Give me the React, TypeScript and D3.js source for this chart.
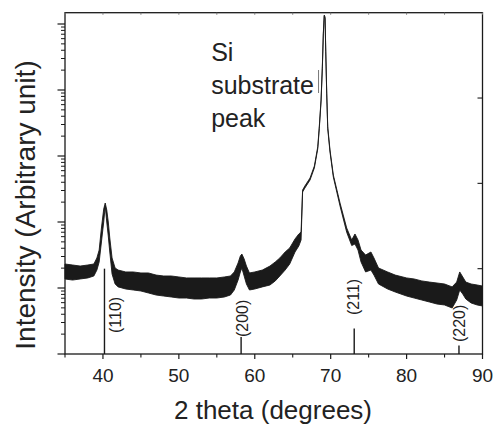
import React from "react";
import * as d3 from "d3";

// XRD pattern: upper and lower edge of the noisy trace
const theta = [35, 36, 37, 38, 38.8, 39.2, 39.5, 39.8, 40.1, 40.3, 40.5, 40.7, 40.9, 41.2, 41.6, 42, 43, 44, 45, 46, 47, 48, 49, 50, 51, 52, 53, 54, 55, 56, 56.8, 57.3, 57.8, 58.1, 58.3, 58.6, 58.9, 59.3, 60, 61, 62, 62.7, 63.3, 64, 64.6, 65.3, 65.8, 66.1, 66.3, 66.6, 67.28, 67.85, 68.3, 68.5, 68.73, 68.9, 69.03, 69.15, 69.26, 69.35, 69.48, 69.61, 69.91, 70.35, 71.23, 72.11, 72.77, 73.2, 73.6, 74, 74.6, 75.3, 75.7, 76.3, 77.5, 78.5, 80, 81, 82, 83, 84, 85, 86, 86.6, 87, 87.4, 87.8, 88.5, 89.3, 90];
const upper = [23.1, 22.3, 21.5, 22.3, 23.1, 28.5, 37.6, 81.1, 157, 194, 152, 100, 57.2, 28.5, 20.1, 18.7, 17.5, 17.5, 16.9, 16.9, 15.7, 15.2, 15.2, 14.7, 14.2, 14.2, 14.2, 14.2, 14.2, 14.7, 15.2, 17.5, 23.9, 30.5, 32.7, 27.5, 21.5, 16.9, 17.5, 18.7, 21.5, 24.8, 28.5, 35.1, 40.4, 55.3, 65.8, 70.5, 305, 351, 464, 705, 1384, 2780, 7055, 22550, 72300, 136900, 127600, 40370, 8910, 2780, 1233, 515, 194, 81.1, 53.4, 65.8, 53.4, 37.6, 31.6, 35.1, 28.5, 20.1, 17.5, 15.7, 14.2, 13.7, 12.8, 12.3, 11.9, 11.5, 10.4, 12.3, 17.5, 14.7, 12.3, 11.5, 11.1, 10.7];
const lower = [13.7, 13.2, 13.7, 14.2, 15.2, 18.7, 24.8, 49.8, 100, 175, 100, 61.4, 35.1, 16.3, 11.5, 10.4, 9.66, 9.33, 9.01, 8.4, 7.83, 7.56, 7.31, 7.05, 7.05, 6.81, 6.81, 7.05, 7.05, 7.31, 7.83, 9.33, 13.2, 17.5, 20.1, 15.2, 11.5, 9.33, 9.66, 10.4, 11.1, 12.8, 15.2, 18.7, 23.1, 35.1, 43.3, 53.4, 285, 327, 433, 660, 1290, 2600, 6600, 21000, 68000, 130000, 120000, 38000, 8400, 2600, 1150, 480, 175, 70, 44, 46.4, 37.6, 24.8, 17.5, 18.7, 15.7, 11.5, 9.66, 8.7, 7.56, 7.05, 6.58, 6.14, 5.72, 5.53, 4.98, 6.58, 9.33, 8.11, 6.81, 5.93, 5.53, 5.34];

// reference pattern (relative intensity, right-hand scale)
const refPos = [40.2, 58.2, 73.1, 86.9];
const refInt = [100, 20, 30, 10];
const refLabels = ["(110)", "(200)", "(211)", "(220)"];

const xTicks = [40, 50, 60, 70, 80, 90];
const xMinor = [35, 45, 55, 65, 75, 85];
const rightTicks = [100, 200, 300];
const noteLines = ["Si", "substrate", "peak"];

const W = 495, H = 424;
const L = 65, R = 482.5, T = 12.7, B = 354;
const font = "'Liberation Sans', Arial, Helvetica, sans-serif";
const ink = "#1a1a1a";

export default function App() {
  const x = d3.scaleLinear().domain([35, 90]).range([L, R]);
  const y = d3.scaleLog().domain([1, Math.pow(10, (B - T) / 66)]).range([B, T]);
  const yRef = d3.scaleLinear().domain([0, 400]).range([B, T]);

  const pts = theta.map((t, i) => ({ t, hi: upper[i], lo: lower[i] }));
  const band = d3.area<any>().x(d => x(d.t)).y0(d => y(d.lo)).y1(d => y(d.hi))(pts) || "";

  // log ticks for left axis
  const major: number[] = [];
  const minor: number[] = [];
  for (let e = 0; e <= 5; e++) {
    major.push(Math.pow(10, e));
    for (let k = 2; k <= 9; k++) {
      const v = k * Math.pow(10, e);
      if (v < y.domain()[1]) minor.push(v);
    }
  }
  const allX = xTicks.concat(xMinor);

  // label placement (px offsets of the rotated hkl labels)
  const labDx = [17, 7, 5, 6];
  const labBase = [333, 337, 315, 342];

  return (
    <svg width={W} height={H} style={{ position: "absolute", left: 0, top: 0, background: "#fff" }}>
      <rect x={0} y={0} width={W} height={H} fill="#fff" />

      <path d={band} fill={ink} stroke={ink} strokeWidth={0.9} strokeLinejoin="round" />

      {refPos.map((p, i) => (
        <g key={"ref" + i}>
          <line x1={x(p)} x2={x(p)} y1={B} y2={yRef(refInt[i])} stroke={ink} strokeWidth={1.4} />
          <text
            transform={`translate(${x(p) + labDx[i]},${labBase[i]}) rotate(-90)`}
            fontFamily={font} fontSize={16} fill="#222"
          >{refLabels[i]}</text>
        </g>
      ))}

      {/* frame */}
      <rect x={L} y={T} width={R - L} height={B - T} fill="none" stroke={ink} strokeWidth={1.3} />

      {/* left log axis, outward ticks */}
      {major.map(v => (
        <line key={"M" + v} x1={L - 7.5} x2={L} y1={y(v)} y2={y(v)} stroke={ink} strokeWidth={1.2} />
      ))}
      {minor.map(v => (
        <line key={"m" + v} x1={L - 4} x2={L} y1={y(v)} y2={y(v)} stroke={ink} strokeWidth={1} />
      ))}

      {/* right axis, inward ticks */}
      {rightTicks.map(v => (
        <line key={"r" + v} x1={R - 5} x2={R} y1={yRef(v)} y2={yRef(v)} stroke={ink} strokeWidth={1.1} />
      ))}

      {/* top axis, short inward ticks */}
      {allX.map(v => (
        <line key={"t" + v} x1={x(v)} x2={x(v)} y1={T} y2={T + 2} stroke="#777" strokeWidth={1} />
      ))}

      {/* bottom axis */}
      {xTicks.map(v => (
        <line key={"b" + v} x1={x(v)} x2={x(v)} y1={B} y2={B + 5} stroke={ink} strokeWidth={1.2} />
      ))}
      {xMinor.map(v => (
        <line key={"bm" + v} x1={x(v)} x2={x(v)} y1={B} y2={B + 3.5} stroke={ink} strokeWidth={1.1} />
      ))}
      {xTicks.map(v => (
        <text key={"bl" + v} x={x(v)} y={381.5} textAnchor="middle" fontFamily={font} fontSize={19} fill="#222">{v}</text>
      ))}

      <text x={273} y={419} textAnchor="middle" fontFamily={font} fontSize={26} fill="#222">2 theta (degrees)</text>
      <text transform={`translate(35,205) rotate(-90)`} textAnchor="middle" fontFamily={font} fontSize={28} fill="#222">
        Intensity (Arbitrary unit)
      </text>

      {noteLines.map((s, i) => (
        <text key={s} x={x(54.25)} y={61 + i * 33} fontFamily={font} fontSize={25} fill="#222">{s}</text>
      ))}
      <line x1={x(68.4)} x2={x(68.4)} y1={70} y2={93} stroke="#555" strokeWidth={0.8} />
    </svg>
  );
}
